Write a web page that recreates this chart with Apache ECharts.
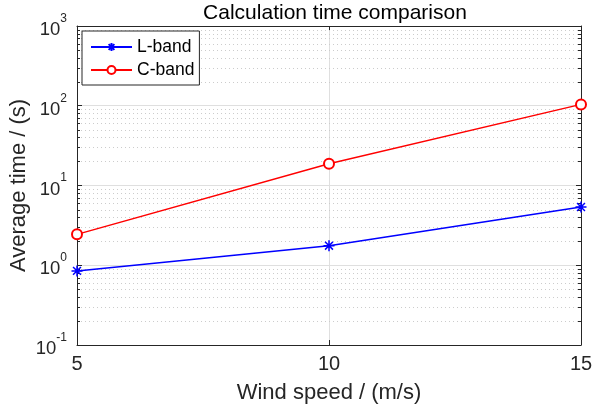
<!DOCTYPE html>
<html><head><meta charset="utf-8">
<script src="https://cdn.jsdelivr.net/npm/echarts@6/dist/echarts.min.js"></script>
<style>html,body{margin:0;padding:0;background:#fff}#c{width:593px;height:413px}</style>
</head><body><div id="c"></div>
<script>
var windSpeed = [5, 10, 15];
var lBand = [0.85, 1.76, 5.37];
var cBand = [2.44, 18.7, 104];
var seriesNames = ['L-band', 'C-band'];
var xTicks = [5, 10, 15];
var yDecades = [-1, 0, 1, 2, 3];

var FONT = "Arial, 'Liberation Sans', Helvetica, sans-serif";
var TXT = '#262626';

var minorVals = [];
for (var e = yDecades[0]; e < yDecades[yDecades.length - 1]; e++) {
  for (var m = 2; m <= 9; m++) minorVals.push([windSpeed[0], m * Math.pow(10, e)]);
}

var asterisk = 'path://M0,-5L0,5M-5,0L5,0M-3.6,-3.6L3.6,3.6M-3.6,3.6L3.6,-3.6';

var chart = echarts.init(document.getElementById('c'), null, {renderer: 'canvas'});
var option = {
  animation: false,
  backgroundColor: '#ffffff',
  title: {
    text: 'Calculation time comparison',
    left: 330, top: -2, textAlign: 'center',
    textStyle: {fontFamily: FONT, fontSize: 21, fontWeight: 'normal', color: '#000'}
  },
  legend: {
    data: [
      {name: seriesNames[0]},
      {name: seriesNames[1]}
    ],
    orient: 'vertical',
    left: 82, top: 31,
    itemWidth: 41, itemHeight: 10, itemGap: 5,
    padding: [7, 5, 6, 8],
    borderColor: TXT, borderWidth: 1, borderRadius: 0,
    backgroundColor: '#fff',
    textStyle: {fontFamily: FONT, fontSize: 17.5, color: '#000'}
  },
  grid: {left: 77, right: 12, top: 26, bottom: 68, containLabel: false, outerBoundsMode: 'none'},
  xAxis: [{
    type: 'value', min: 5, max: 15, interval: 5,
    name: 'Wind speed / (m/s)', nameLocation: 'middle', nameGap: 37, nameMoveOverlap: false,
    nameTextStyle: {fontFamily: FONT, fontSize: 22, color: TXT},
    axisLine: {show: true, lineStyle: {color: TXT, width: 1}},
    axisTick: {show: true, inside: true, length: 5, lineStyle: {color: TXT}},
    axisLabel: {fontFamily: FONT, fontSize: 20, color: TXT, margin: 9},
    splitLine: {show: true, lineStyle: {color: '#dfdfdf', width: 1}}
  }, {
    type: 'value', min: 5, max: 15, interval: 5, position: 'top',
    axisLine: {show: true, lineStyle: {color: TXT, width: 1}},
    axisTick: {show: true, inside: true, length: 5, lineStyle: {color: TXT}},
    axisLabel: {show: false}, splitLine: {show: false}
  }],
  yAxis: [{
    type: 'log', logBase: 10, min: 0.1, max: 1000,
    name: 'Average time / (s)', nameLocation: 'middle', nameGap: 47, nameMoveOverlap: false,
    nameTextStyle: {fontFamily: FONT, fontSize: 22, color: TXT},
    axisLine: {show: true, lineStyle: {color: TXT, width: 1}},
    axisTick: {show: true, inside: true, length: 5, lineStyle: {color: TXT}},
    axisLabel: {
      margin: 10,
      formatter: function (v) { return '{b|10}{sup|' + Math.round(Math.log10(v)) + '}'; },
      fontFamily: FONT, fontSize: 18, color: TXT,
      rich: {
        b: {fontFamily: FONT, fontSize: 18.5, color: TXT, padding: [8, 0, 0, 0]},
        sup: {fontFamily: FONT, fontSize: 12, color: TXT, verticalAlign: 'top', padding: [0, 0, 8, 0]}
      }
    },
    splitLine: {show: true, lineStyle: {color: '#dfdfdf', width: 1}}
  }, {
    type: 'log', logBase: 10, min: 0.1, max: 1000, position: 'right',
    axisLine: {show: true, lineStyle: {color: TXT, width: 1}},
    axisTick: {show: true, inside: true, length: 5, lineStyle: {color: TXT}},
    axisLabel: {show: false}, splitLine: {show: false}
  }],
  series: [{
    type: 'custom', name: 'minor', silent: true, z: 1,
    xAxisIndex: 0, yAxisIndex: 0,
    data: minorVals,
    renderItem: function (params, api) {
      var p0 = api.coord([xTicks[0], api.value(1)]);
      var p1 = api.coord([xTicks[xTicks.length - 1], api.value(1)]);
      var y = Math.round(p0[1]) + 0.5;
      return {type: 'group', children: [
        {type: 'line', shape: {x1: p0[0], y1: y, x2: p1[0], y2: y},
         style: {stroke: '#cccccc', lineWidth: 1, lineDash: [1, 3]}},
        {type: 'line', shape: {x1: p0[0], y1: y, x2: p0[0] + 3, y2: y},
         style: {stroke: TXT, lineWidth: 1}},
        {type: 'line', shape: {x1: p1[0] - 3, y1: y, x2: p1[0], y2: y},
         style: {stroke: TXT, lineWidth: 1}}
      ]};
    }
  }, {
    type: 'line', name: seriesNames[0], z: 3,
    data: windSpeed.map(function (x, i) { return [x, lBand[i]]; }),
    symbol: asterisk, symbolSize: 11, showAllSymbol: true,
    lineStyle: {color: '#0000ff', width: 1.5},
    itemStyle: {color: '#0000ff', borderColor: '#0000ff', borderWidth: 1.5}
  }, {
    type: 'line', name: seriesNames[1], z: 3,
    data: windSpeed.map(function (x, i) { return [x, cBand[i]]; }),
    symbol: 'emptyCircle', symbolSize: 10, showAllSymbol: true,
    lineStyle: {color: '#ff0000', width: 1.5},
    itemStyle: {color: '#ff0000', borderColor: '#ff0000', borderWidth: 1.3}
  }]
};
chart.setOption(option);
</script></body></html>
